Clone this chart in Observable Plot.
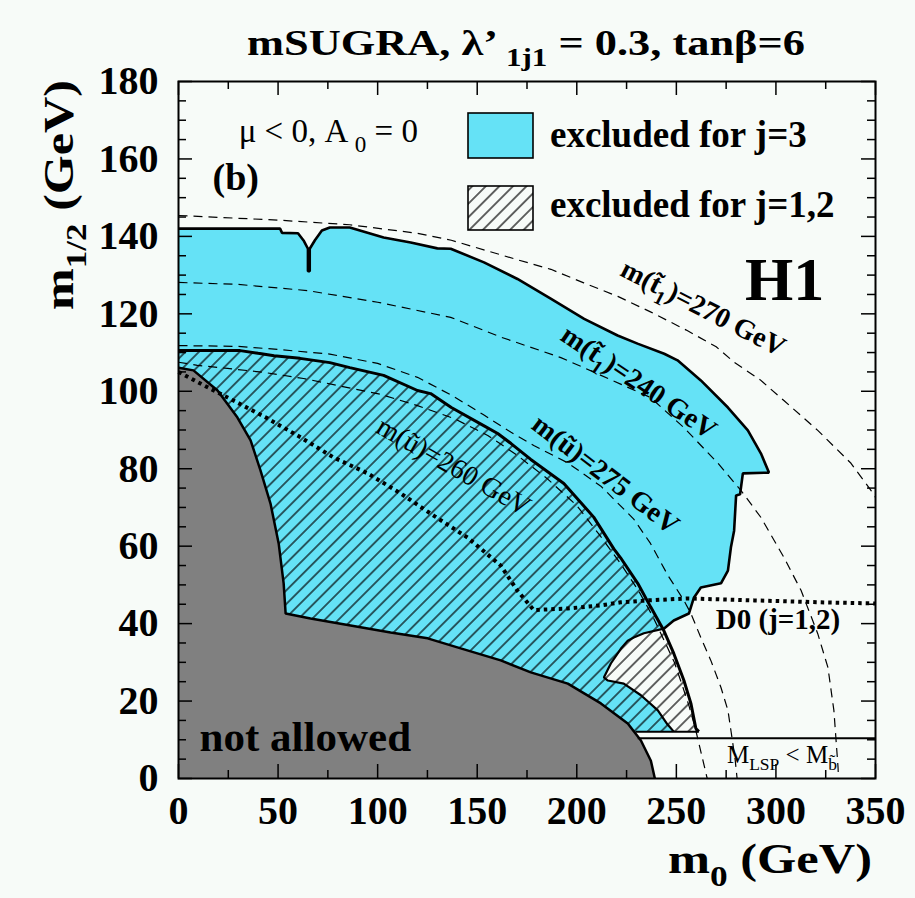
<!DOCTYPE html>
<html><head><meta charset="utf-8">
<script src="https://cdn.jsdelivr.net/npm/d3@7"></script>
<script src="https://cdn.jsdelivr.net/npm/@observablehq/plot@0.6"></script>
<style>
html,body{margin:0;padding:0;background:#f7fbf8;}
</style>
</head><body><div id="chart"></div>
<script>
// ---------- tick values ----------
const xTicks = [0, 50, 100, 150, 200, 250, 300, 350];
const xMinorTicks = [25, 75, 125, 175, 225, 275, 325];
const yTicks = [0, 20, 40, 60, 80, 100, 120, 140, 160, 180];
const yMinorTicks = [5, 10, 15, 25, 30, 35, 45, 50, 55, 65, 70, 75, 85, 90, 95, 105, 110, 115, 125, 130, 135, 145, 150, 155, 165, 170, 175];

// ---------- regions (m0, m1/2) ----------
const greyBoundary = [[0,106.1],[7.5,105.4],[19.6,100.2],[29.6,93.2],[36.2,87.3],[41.2,79.5],[46.2,71.0],[50.3,60.7],[52.8,50.4],[53.8,42.6],[66.3,41.3],[86.4,39.5],[106.5,37.7],[125.1,36.2],[141.7,33.6],[161.8,30.5],[176.9,27.4],[195.5,24.5],[212.1,19.4],[225.6,14.2],[232.2,9.8],[237.2,4.6],[239.2,0]];
const greyCorner = [[0,0]];

const blueOuter = [[0,142.0],[51,142.0],[52,140.9],[60,140.8],[63,138.8],[65.0,136.8],[65.0,131],[65.9,131],[65.9,136.8],[68.5,139],[72,141.5],[76,142.3],[86,142.3],[103,139.7],[116.6,138.4],[130,136.9],[136.7,136.8],[153.4,133.3],[170.2,129.0],[186.9,123.9],[203.7,118.7],[220.5,114.4],[230.5,112.3],[243.9,109.7],[250.6,108.0],[262.3,102.8],[275.9,95.8],[285.9,89.9],[292.5,83.9],[296.5,79.0],[283.4,78.8],[282,73.4],[280,73.1],[279,64],[277.4,59.7],[275.9,53.7],[272.4,50.4],[262.3,49.3],[258.8,46.7],[256.3,42.6],[248.7,40.8],[243.7,38.7]];
const whiteHatchLeft = [[243.7,38.7],[233.7,37.5],[228.6,36.4],[225.6,35.6],[222.1,33.5],[217.1,29.7],[213.6,26.1],[215.6,25.3],[223.6,24.5],[232.2,21.5],[240.7,17.6],[245.5,14.0],[248.7,12.1]];
const excludedBottom = [[229.5,12.1],[261.3,12.1]];
const blueClose = [[0,12.1]];

const boundaryJ12 = [[0,110.5],[31,110.5],[40,109.8],[48,109.2],[61,108.5],[76,107.4],[86,106.1],[103,104.1],[120,100.2],[126.6,99.4],[137,95.8],[153,91.2],[160.3,89.1],[167,86.5],[176.9,82.4],[193.5,76.2],[208.5,67.5],[218.6,59.3],[222,57],[230.6,50.4],[237.2,44.2],[243.7,38.2],[248.7,32.3],[253.8,25.3],[257.3,19.4],[259.8,12.9],[261.3,12.1]];

const lspLine = [[230.6,10.4],[350,10.4]];

// ---------- mass contours ----------
const stop270 = [[0,145.4],[50,144.2],[86,143],[120,140.8],[137,139],[170,134],[187,131.5],[203.5,128],[220.6,124.5],[237,120.5],[255,115.8],[270,111.5],[279,107.5],[292,103],[304,97.6],[321,89.9],[337.7,81.4],[347.7,74.4],[350,72.6]];
const stop240 = [[0,128.1],[30,127.6],[64.8,126],[100,123],[136.7,119.1],[161.8,114],[192,108.7],[203.5,106.1],[237,98.4],[253.8,90.6],[270.9,81.4],[282.4,74.4],[292.5,67.4],[304,57.1],[312.6,48.6],[321,37.4],[326.1,28.7],[329.1,17.6],[331.2,2.8],[331.4,0]];
const sup275 = [[0,111.8],[30,111.6],[50,110.8],[76,109.6],[100,107.2],[120,103.6],[137,99],[153,94],[167,89.4],[178.4,86],[195.5,81.5],[212.1,75.5],[228.6,67],[237,60.7],[245.7,52.5],[253.8,46],[257.3,42.6],[262.3,36.4],[267.3,30.5],[272.4,23.5],[275.9,17.6],[277.4,12.4],[279.5,5],[280.5,0]];
const sup260 = [[0,107.5],[9.5,106.7],[24.6,105.9],[42.7,104.9],[62.8,103.3],[79.9,101.5],[101.5,99.2],[120,96.3],[138.2,93],[155.3,88.6],[170,83.5],[185,77.5],[200,70.5],[212,62.5],[222,55.5],[231,48.5],[238,42],[244,35.5],[249,30],[253,24],[256.5,18.5],[259.5,13],[262.5,6.5],[265.5,0]];
const d0Limit = [[0,105],[11,102],[27.6,97.6],[44.7,93],[61.3,88.1],[77.9,82.9],[95,78.8],[111.6,73.6],[128.1,67.9],[145.2,62.2],[161.8,55],[170.2,48.5],[178.4,43.5],[195.5,43.9],[212.1,44.7],[222,45.5],[235.7,46],[255.8,46.5],[289,46],[322.6,45.5],[350,45.2]];

// ---------- labels ----------
const curveLabels = [
  {x: 263.5, y: 121.5, angle: 27, text: "m(t\u0303_{1})=270 GeV", weight: "bold"},
  {x: 231.2, y: 102.3, angle: 34, text: "m(t\u0303_{1})=240 GeV", weight: "bold"},
  {x: 214.5, y: 78.5, angle: 37.5, text: "m(u\u0303)=275 GeV", weight: "bold"},
  {x: 138.2, y: 80.6, angle: 29.6, text: "m(u\u0303)=260 GeV", weight: "normal"}
];
const notes = [
  {x: 30.2, y: 164.3, text: "\u03bc < 0, A _{0} = 0", size: 33, weight: "normal"},
  {x: 17.1, y: 151.9, text: "(b)", size: 38, weight: "bold"},
  {x: 284.5, y: 123.5, text: "H1", size: 62, weight: "bold"},
  {x: 10.6, y: 7.2, text: "not allowed", size: 43, weight: "bold"},
  {x: 269.8, y: 38.7, text: "D0 (j=1,2)", size: 29, weight: "bold"},
  {x: 275.4, y: 4.1, text: "M_{LSP} < M_{b\u0303}", size: 25, weight: "normal"}
];
const legendItems = ["excluded for j=3", "excluded for j=1,2"];
const titleText = "mSUGRA, \u03bb\u2019 _{1j1} = 0.3, tan\u03b2=6";
const xLabel = "m_{0} (GeV)";
const yLabel = "m_{1/2} (GeV)";

// ---------- style ----------
const BLUE = "#65e2f6", GREY = "#808080", BG = "#f7fbf8";
const W = 915, H = 898, ML = 178, MR = 40, MT = 81, MB = 120;
const FW = W - ML - MR, FH = H - MT - MB;
const X = d => d[0], Y = d => d[1];
const dashed = {x: X, y: Y, stroke: "black", strokeWidth: 1.2, strokeDasharray: "9,6", strokeLinecap: "butt"};
const solid = w => ({x: X, y: Y, stroke: "black", strokeWidth: w, strokeLinejoin: "miter", strokeLinecap: "butt"});

const fig = Plot.plot({
  width: W, height: H,
  marginLeft: ML, marginRight: MR, marginTop: MT, marginBottom: MB,
  x: {domain: [0, 350], axis: null},
  y: {domain: [0, 180], axis: null},
  style: {fontFamily: "'Liberation Serif', 'Times New Roman', serif", background: BG, color: "black"},
  marks: [
    Plot.line(blueOuter.concat(whiteHatchLeft.slice(1), blueClose), {x: X, y: Y, fill: BLUE, stroke: "none"}),
    Plot.line(boundaryJ12.concat(blueClose), {x: X, y: Y, fill: "url(#hatch)", stroke: "none"}),
    Plot.line(stop270, dashed),
    Plot.line(stop240, dashed),
    Plot.line(sup275, dashed),
    Plot.line(sup260, dashed),
    Plot.line(greyBoundary.concat(greyCorner), {x: X, y: Y, fill: GREY, stroke: "none"}),
    Plot.line(greyBoundary, solid(2.5)),
    Plot.line(d0Limit, {x: X, y: Y, stroke: "black", strokeWidth: 4, strokeDasharray: "3.5,4", strokeLinecap: "butt"}),
    Plot.line(blueOuter, solid(2.6)),
    Plot.line(whiteHatchLeft, solid(2.2)),
    Plot.line(boundaryJ12, solid(3)),
    Plot.line(excludedBottom, solid(2)),
    Plot.line(lspLine, solid(2.2)),
    // ticks (inside the frame)
    Plot.ruleX(xTicks, {x: d => d, insetTop: FH - 14, stroke: "black", strokeWidth: 1.5}),
    Plot.ruleX(xTicks, {x: d => d, insetBottom: FH - 14, stroke: "black", strokeWidth: 1.5}),
    Plot.ruleX(xMinorTicks, {x: d => d, insetTop: FH - 8, stroke: "black", strokeWidth: 1.5}),
    Plot.ruleX(xMinorTicks, {x: d => d, insetBottom: FH - 8, stroke: "black", strokeWidth: 1.5}),
    Plot.ruleY(yTicks, {y: d => d, insetRight: FW - 14, stroke: "black", strokeWidth: 1.5}),
    Plot.ruleY(yTicks, {y: d => d, insetLeft: FW - 14, stroke: "black", strokeWidth: 1.5}),
    Plot.ruleY(yMinorTicks, {y: d => d, insetRight: FW - 8, stroke: "black", strokeWidth: 1.5}),
    Plot.ruleY(yMinorTicks, {y: d => d, insetLeft: FW - 8, stroke: "black", strokeWidth: 1.5}),
    Plot.frame({stroke: "black", strokeWidth: 2}),
    // tick labels
    Plot.text(xTicks, {x: d => d, frameAnchor: "bottom", dy: 45, lineAnchor: "bottom", text: d => String(d), fontSize: 40, fontWeight: "bold", fill: "black"}),
    Plot.text(yTicks, {y: d => d, frameAnchor: "left", dx: -20, textAnchor: "end", text: d => String(d), fontSize: 40, fontWeight: "bold", fill: "black"}),
    // curve labels
    Plot.text(curveLabels.filter(d => d.weight === "bold"), {x: "x", y: "y", text: "text", rotate: "angle", fontSize: 28, fontWeight: "bold", fill: "black"}),
    Plot.text(curveLabels.filter(d => d.weight !== "bold"), {x: "x", y: "y", text: "text", rotate: "angle", fontSize: 28, fill: "black"}),
    // annotations
    ...notes.map(n => Plot.text([n], {x: "x", y: "y", text: "text", textAnchor: "start", lineAnchor: "bottom", fontSize: n.size, fontWeight: n.weight, fill: "black"}))
  ]
});
const svg = fig.tagName.toLowerCase() === "svg" ? fig : fig.querySelector("svg");
document.getElementById("chart").appendChild(fig);

const root = d3.select(svg);
// hatch pattern
const defs = root.insert("defs", ":first-child");
const pat = defs.append("pattern").attr("id", "hatch").attr("patternUnits", "userSpaceOnUse")
  .attr("width", 9.6).attr("height", 9.6).attr("patternTransform", "rotate(45)");
pat.append("line").attr("x1", 4.8).attr("y1", -1).attr("x2", 4.8).attr("y2", 11).attr("stroke", "black").attr("stroke-width", 1.2);

// legend
const lg = root.append("g").attr("text-anchor", "start");
lg.append("rect").attr("x", 468).attr("y", 113).attr("width", 65).attr("height", 45).attr("fill", BLUE).attr("stroke", "black").attr("stroke-width", 1.6);
lg.append("rect").attr("x", 468).attr("y", 186).attr("width", 65).attr("height", 44).attr("fill", BG).attr("stroke", "none");
lg.append("rect").attr("x", 468).attr("y", 186).attr("width", 65).attr("height", 44).attr("fill", "url(#hatch)").attr("stroke", "black").attr("stroke-width", 1.6);
legendItems.forEach((t, i) => {
  lg.append("text").attr("x", 550).attr("y", i === 0 ? 147 : 217).attr("text-anchor", "start").attr("font-size", 37).attr("font-weight", "bold").attr("fill", "black").text(t);
});

// title & axis labels
root.append("text").attr("x", 526).attr("y", 55).attr("text-anchor", "middle").attr("font-size", 36).attr("font-weight", "bold")
  .attr("textLength", 558).attr("lengthAdjust", "spacingAndGlyphs").attr("fill", "black").text(titleText);
root.append("text").attr("x", 872).attr("y", 873).attr("text-anchor", "end").attr("font-size", 42).attr("font-weight", "bold")
  .attr("textLength", 204).attr("lengthAdjust", "spacingAndGlyphs").attr("fill", "black").text(xLabel);
root.append("text").attr("transform", "translate(73,80) rotate(-90)").attr("text-anchor", "end").attr("font-size", 42).attr("font-weight", "bold")
  .attr("textLength", 230).attr("lengthAdjust", "spacingAndGlyphs").attr("fill", "black").text(yLabel);

// sub/superscripts
root.selectAll("text").each(function () {
  const s = this.textContent;
  if (!/[_^]\{/.test(s)) return;
  this.textContent = "";
  let shifted = 0;
  for (const p of s.split(/([_^]\{[^}]*\})/)) {
    if (!p) continue;
    const t = document.createElementNS("http://www.w3.org/2000/svg", "tspan");
    const m = p.match(/^([_^])\{([^}]*)\}$/);
    if (m) {
      const sh = m[1] === "_" ? 0.3 : -0.4;
      t.setAttribute("font-size", "0.7em");
      t.setAttribute("dy", ((sh - shifted) / 0.7).toFixed(3) + "em");
      shifted = sh;
      t.textContent = m[2];
    } else {
      if (shifted) { t.setAttribute("dy", (-shifted).toFixed(3) + "em"); shifted = 0; }
      t.textContent = p;
    }
    this.appendChild(t);
  }
});
</script>
</body></html>
